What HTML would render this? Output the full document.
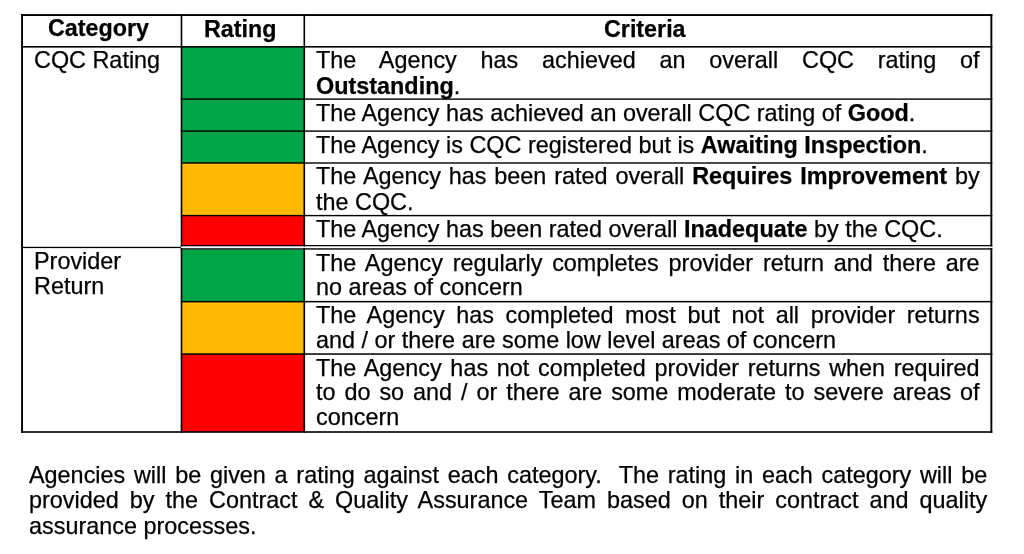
<!DOCTYPE html>
<html>
<head>
<meta charset="utf-8">
<style>
html,body{margin:0;padding:0;background:#fff;}
body{width:1024px;height:554px;position:relative;overflow:hidden;-webkit-font-smoothing:antialiased;font-family:"Liberation Sans",sans-serif;font-size:23.4px;color:#000;}
svg{position:absolute;left:0;top:0;}
#w{position:absolute;left:0;top:0;width:1024px;height:554px;background:#fff;filter:blur(0.3px);}
.t{position:absolute;line-height:25px;height:25px;white-space:nowrap;will-change:transform;-webkit-text-stroke:0.25px #000;}
.j{text-align:justify;text-align-last:justify;white-space:normal;}
.c{left:316.4px;width:663.6px;}
.p{left:28.8px;width:958.2px;}
b{font-weight:bold;}
.h{font-size:23.3px;}
</style>
</head>
<body>
<div id="w">
<svg width="1024" height="554" viewBox="0 0 1024 554">
<!-- fills -->
<g>
<rect x="182" y="47" width="122" height="52" fill="#00A548"/>
<rect x="182" y="99" width="122" height="32" fill="#00A548"/>
<rect x="182" y="131" width="122" height="32" fill="#00A548"/>
<rect x="182" y="163" width="122" height="53" fill="#FFB900"/>
<rect x="182" y="215.5" width="122" height="30.3" fill="#FF0000"/>
<rect x="182" y="249.6" width="122" height="52.3" fill="#00A548"/>
<rect x="182" y="301.5" width="122" height="53" fill="#FFB900"/>
<rect x="182" y="354" width="122" height="78" fill="#FF0000"/>
</g>
<!-- lines -->
<g fill="#000">
<rect x="21" y="14.1" width="971.4" height="1.9"/>
<rect x="21.1" y="14.1" width="1.9" height="418.7"/>
<rect x="990.4" y="14.1" width="1.9" height="232.4"/>
<rect x="990.4" y="248.2" width="1.9" height="184.6"/>
<rect x="180.7" y="14.1" width="1.6" height="232.5"/>
<rect x="180.7" y="248.0" width="1.6" height="184.8"/>
<rect x="303.5" y="14.1" width="1.6" height="232.5"/>
<rect x="303.5" y="248.0" width="1.6" height="184.8"/>
<rect x="21" y="46.0" width="971.3" height="1.6"/>
<rect x="180.7" y="98.4" width="811.6" height="1.4"/>
<rect x="180.7" y="130.4" width="811.6" height="1.4"/>
<rect x="180.7" y="162.3" width="811.6" height="1.4"/>
<rect x="180.7" y="214.9" width="811.6" height="1.4"/>
<rect x="180.7" y="245.0" width="811.6" height="1.25"/>
<rect x="180.7" y="248.25" width="811.6" height="1.4"/>
<rect x="180.7" y="300.9" width="811.6" height="1.5"/>
<rect x="180.7" y="353.3" width="811.6" height="1.5"/>
<rect x="21" y="246.8" width="160" height="1.3"/>
<rect x="21" y="431.2" width="971.3" height="1.6"/>
</g>
</svg>

<!-- header -->
<div class="t h" style="left:48.4px;top:16px;"><b>Category</b></div>
<div class="t h" style="left:204.4px;top:16.6px;"><b>Rating</b></div>
<div class="t h" style="left:604px;top:16.6px;"><b>Criteria</b></div>

<!-- category column -->
<div class="t" style="left:34.4px;top:48px;">CQC Rating</div>
<div class="t" style="left:33.9px;top:249px;">Provider</div>
<div class="t" style="left:33.9px;top:274px;">Return</div>

<!-- criteria -->
<div class="t c j" style="top:48.2px;">The Agency has achieved an overall CQC rating of</div>
<div class="t c" style="top:74.2px;"><b>Outstanding</b>.</div>
<div class="t c" style="top:100.8px;">The Agency has achieved an overall CQC rating of <b>Good</b>.</div>
<div class="t c" style="top:132.8px;">The Agency is CQC registered but is <b>Awaiting Inspection</b>.</div>
<div class="t c j" style="top:164.2px;">The Agency has been rated overall <b>Requires Improvement</b> by</div>
<div class="t c" style="top:190.4px;">the CQC.</div>
<div class="t c" style="top:216.8px;">The Agency has been rated overall <b>Inadequate</b> by the CQC.</div>
<div class="t c j" style="top:251.4px;">The Agency regularly completes provider return and there are</div>
<div class="t c" style="top:275.4px;">no areas of concern</div>
<div class="t c j" style="top:302.8px;">The Agency has completed most but not all provider returns</div>
<div class="t c" style="top:327.9px;">and / or there are some low level areas of concern</div>
<div class="t c j" style="top:355.8px;">The Agency has not completed provider returns when required</div>
<div class="t c j" style="top:379.6px;">to do so and / or there are some moderate to severe areas of</div>
<div class="t c" style="top:405.4px;">concern</div>

<!-- paragraph -->
<div class="t p j" style="top:462.7px;">Agencies will be given a rating against each category.&nbsp; The rating in each category will be</div>
<div class="t p j" style="top:487.7px;">provided by the Contract &amp; Quality Assurance Team based on their contract and quality</div>
<div class="t p" style="top:513.6px;">assurance processes.</div>
</div>
</body>
</html>
